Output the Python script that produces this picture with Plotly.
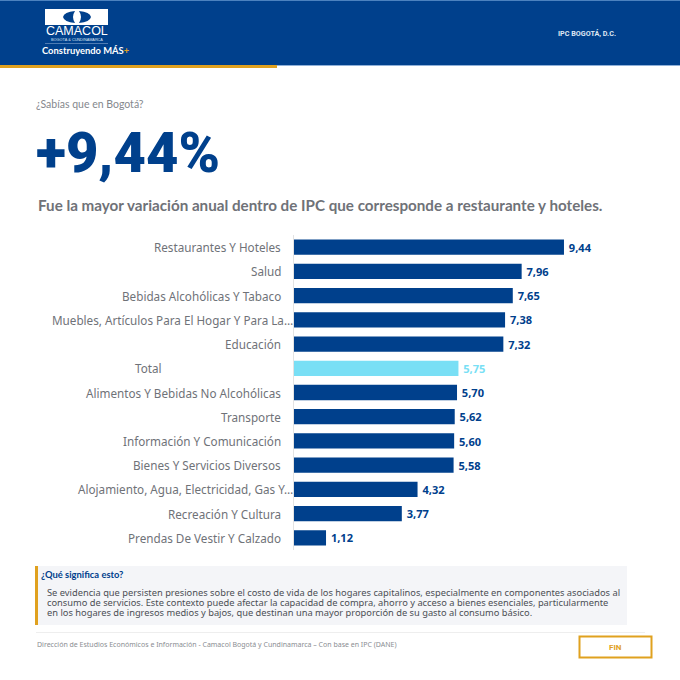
import plotly.graph_objects as go

# Data
categories = [
    "Restaurantes Y Hoteles", "Salud", "Bebidas Alcohólicas Y Tabaco",
    "Muebles, Artículos Para El Hogar Y Para La…", "Educación", "Total",
    "Alimentos Y Bebidas No Alcohólicas", "Transporte", "Información Y Comunicación",
    "Bienes Y Servicios Diversos", "Alojamiento, Agua, Electricidad, Gas Y…",
    "Recreación Y Cultura", "Prendas De Vestir Y Calzado",
]
values = [9.44, 7.96, 7.65, 7.38, 7.32, 5.75, 5.70, 5.62, 5.60, 5.58, 4.32, 3.77, 1.12]

paragraph = [
    "Se evidencia que persisten presiones sobre el costo de vida de los hogares capitalinos, especialmente en componentes asociados al",
    "consumo de servicios. Este contexto puede afectar la capacidad de compra, ahorro y acceso a bienes esenciales, particularmente",
    "en los hogares de ingresos medios y bajos, que destinan una mayor proporción de su gasto al consumo básico.",
]

W = 680
H = 680
BLUE = "#00408c"
LIGHT = "#79dff5"
GOLD = "#e0a11f"
GREY = "#6f7278"
BODY_FONT = "Noto Sans"
HEAD_FONT = "Lato"


def px(x):
    return x / W


def py(y):
    return 1 - y / H


def rect(x0, y0, x1, y1, fill, line=None, width=0):
    return dict(type="rect", xref="paper", yref="paper", layer="below",
                x0=px(x0), x1=px(x1), y0=py(y0), y1=py(y1), fillcolor=fill,
                line=dict(color=line, width=width))


def label(x, y, text, size, color, anchor="left", font=BODY_FONT, weight="normal"):
    return dict(xref="paper", yref="paper", x=px(x), y=py(y), text=text,
                showarrow=False, xanchor=anchor, yanchor="middle", align=anchor,
                font=dict(size=size, color=color, family=font, weight=weight))


colors = [LIGHT if c == "Total" else BLUE for c in categories]

fig = go.Figure(go.Bar(
    x=values,
    y=categories,
    orientation="h",
    marker=dict(color=colors, line=dict(width=0)),
    texttemplate="\u2009%{x:.2f}",
    textposition="outside",
    textfont=dict(size=14.5, color=colors, family=BODY_FONT, weight="bold"),
    cliponaxis=False,
    hoverinfo="x+y",
))

shapes = [
    rect(0, 0, 680, 65.5, BLUE),
    rect(0, 0, 680, 1, "#4c82bf"),
    rect(0, 65, 680, 66, "#8fb0d8"),
    rect(0, 65, 277, 68, GOLD),
    # logo
    rect(45, 9, 108, 25, "#ffffff"),
    dict(type="path", xref="paper", yref="paper", fillcolor=BLUE, line=dict(width=0),
         path=f"M {px(75)} {py(11)} Q {px(64)} {py(12)} {px(63)} {py(17)} Q {px(64)} {py(22)} {px(75)} {py(23)} Q {px(71)} {py(17)} {px(75)} {py(11)} Z"),
    dict(type="path", xref="paper", yref="paper", fillcolor=BLUE, line=dict(width=0),
         path=f"M {px(79)} {py(11)} Q {px(90)} {py(12)} {px(91)} {py(17)} Q {px(90)} {py(22)} {px(79)} {py(23)} Q {px(83)} {py(17)} {px(79)} {py(11)} Z"),
    rect(45, 43, 108, 43.5, "#9db8da"),
    # note panel
    rect(36, 566, 627, 625, "#f4f5f8"),
    rect(35, 566, 38, 625, GOLD),
    rect(36, 632, 645, 633, "#eeeeee"),
    rect(579.5, 636.5, 651.5, 657.5, "#ffffff", GOLD, 2),
]

annotations = [
    label(44, 31, "CAMACOL", 12.5, "#ffffff", font="Liberation Sans"),
    label(76.5, 39.5, "BOGOTÁ &amp; CUNDINAMARCA", 3.8, "#dfe8f3", anchor="center", font="Liberation Sans"),
    label(40, 50.5, "Construyendo MÁS<span style='color:#e0a11f'>+</span>", 9.4, "#ffffff", font=HEAD_FONT, weight="bold"),
    label(556, 33, "IPC BOGOTÁ, D.C.", 7.2, "#dfe8f3", font="Roboto", weight="bold"),
    label(34, 104, "¿Sabías que en Bogotá?", 10.5, "#85888d", font=HEAD_FONT),
    label(34, 153, "+9,44%", 56, BLUE, font="Roboto", weight=900),
    label(35.5, 205, "Fue la mayor variación anual dentro de IPC que corresponde a restaurante y hoteles.", 15.2, GREY, font=HEAD_FONT, weight="bold"),
    label(39, 574, "¿Qué significa esto?", 9.4, BLUE, font=HEAD_FONT, weight="bold"),
    label(35, 644, "Dirección de Estudios Económicos e Información - Camacol Bogotá y Cundinamarca – Con base en IPC (DANE)", 7, "#8a8d92"),
    label(615, 647.5, "FIN", 8, GOLD, anchor="center", font="Roboto", weight="bold"),
]

for i, line in enumerate(paragraph):
    annotations.append(label(45, 592 + i * 10.3, line, 9.3, "#4b4e54"))

# Category labels: "Total" and the cut labels sit off the common right edge in the original
for cat in categories:
    if cat == "Total":
        right = 164
    elif cat.endswith("…"):
        right = 295
    else:
        right = 283
    annotations.append(dict(xref="paper", yref="y", x=px(right), y=cat, text=cat, showarrow=False,
                            xanchor="right", yanchor="middle",
                            font=dict(size=11.7, color=GREY, family=BODY_FONT)))

fig.update_layout(
    width=W,
    height=H,
    autosize=False,
    margin=dict(l=0, r=0, t=0, b=0),
    paper_bgcolor="#ffffff",
    plot_bgcolor="#ffffff",
    showlegend=False,
    separators=",.",
    bargap=0.37,
    shapes=shapes,
    annotations=annotations,
    xaxis=dict(domain=[px(294), px(640)], range=[0, 346 / 28.6], visible=False),
    yaxis=dict(domain=[py(550), py(235)], autorange="reversed", showticklabels=False,
               ticks="", showline=True, linecolor="#e3e3e3", linewidth=1, showgrid=False),
)

# body margin would shift the whole figure by 8px
fig.write_html("out.html", config=dict(displayModeBar=False),
               post_script="document.body.style.margin='0';")
